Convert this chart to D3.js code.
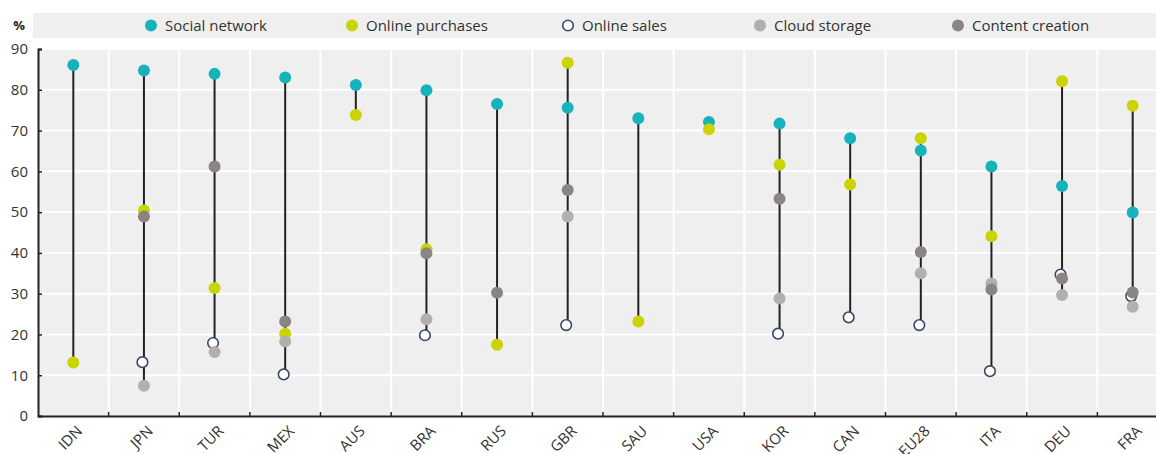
<!DOCTYPE html>
<html>
<head>
<meta charset="utf-8">
<script src="https://cdn.jsdelivr.net/npm/d3@7"></script>
<style>
  body { margin: 0; background: #fff; }
  svg { display: block; font-family: "Open Sans", sans-serif; }
</style>
</head>
<body>
<svg id="svg" width="1156" height="454"></svg>
<script>
// Countries along the x axis, in the order of the chart
let countries = ["IDN", "JPN", "TUR", "MEX", "AUS", "BRA", "RUS", "GBR", "SAU", "USA", "KOR", "CAN", "EU28", "ITA", "DEU", "FRA"];

// Values (%), null where a country has no point
let socialNetwork   = [86.1, 84.7, 83.9, 83.0, 81.2, 79.9, 76.5, 75.6, 73.0, 72.1, 71.7, 68.1, 65.1, 61.2, 56.4, 49.9];
let onlinePurchases = [13.1, 50.4, 31.4, 20.2, 73.8, 40.9, 17.5, 86.6, 23.2, 70.3, 61.6, 56.8, 68.1, 44.1, 82.1, 76.1];
let onlineSales     = [null, 13.2, 17.9, 10.2, null, 19.8, null, 22.3, null, null, 20.2, 24.2, 22.3, 11.0, 34.7, 29.4];
let cloudStorage    = [null, 7.4, 15.7, 18.3, null, 23.7, null, 48.9, null, null, 28.8, null, 35.0, 32.5, 29.7, 26.8];
let contentCreation = [null, 48.9, 61.2, 23.2, null, 39.9, 30.2, 55.4, null, null, 53.3, null, 40.2, 31.0, 33.7, 30.3];

let yTicks = [0, 10, 20, 30, 40, 50, 60, 70, 80, 90];

// Series in drawing order (later ones sit on top)
let series = [
    { name: "Social network",   values: socialNetwork,   fill: "#17b3bc", stroke: "none" },
    { name: "Online purchases", values: onlinePurchases, fill: "#c9d400", stroke: "none" },
    { name: "Online sales",     values: onlineSales,     fill: "#ffffff", stroke: "#3a4768" },
    { name: "Cloud storage",    values: cloudStorage,    fill: "#b2afae", stroke: "none" },
    { name: "Content creation", values: contentCreation, fill: "#8a8583", stroke: "none" }
];

// Where each legend marker sits across the top band
let legendDotX = [151, 352, 568, 760, 958];

let svg = d3.select("#svg");
let plot = { left: 38, top: 49, bottom: 416, right: 1168 };

let x = d3.scaleBand().domain(countries).range([plot.left, plot.right]).padding(0);
let y = d3.scaleLinear().domain([0, 90]).range([plot.bottom, plot.top]);

//Legend band
svg.append("rect")
    .attr("x", 33).attr("y", 13)
    .attr("width", 1156 - 33).attr("height", 25)
    .attr("fill", "#efefef");

svg.append("text")
    .attr("x", 19).attr("y", 30)
    .attr("text-anchor", "middle")
    .attr("font-size", 13).attr("font-weight", "bold")
    .attr("fill", "#222")
    .text("%");

series.forEach(function (s, i) {
    svg.append("circle")
        .attr("cx", legendDotX[i]).attr("cy", 25.5)
        .attr("r", s.stroke === "none" ? 6 : 5.3)
        .attr("fill", s.fill)
        .attr("stroke", s.stroke)
        .attr("stroke-width", 1.6);
    svg.append("text")
        .attr("x", legendDotX[i] + 14).attr("y", 30.5)
        .attr("font-size", 15)
        .attr("fill", "#333")
        .text(s.name);
});

//Plot background and white grid
svg.append("rect")
    .attr("x", plot.left).attr("y", plot.top)
    .attr("width", plot.right - plot.left).attr("height", plot.bottom - plot.top)
    .attr("fill", "#efefef");

svg.append("g").selectAll("line")
    .data(yTicks.slice(1))
    .join("line")
    .attr("x1", plot.left).attr("x2", plot.right)
    .attr("y1", d => y(d)).attr("y2", d => y(d))
    .attr("stroke", "#fff").attr("stroke-width", 2);

svg.append("g").selectAll("line")
    .data(countries.slice(1))
    .join("line")
    .attr("x1", d => x(d)).attr("x2", d => x(d))
    .attr("y1", plot.top).attr("y2", plot.bottom)
    .attr("stroke", "#fff").attr("stroke-width", 2);

//Axes
let yAxis = svg.append("g")
    .attr("transform", "translate(" + plot.left + ",0)")
    .call(d3.axisLeft(y).tickValues(yTicks).tickSize(-4).tickPadding(10));
yAxis.select(".domain").attr("stroke", "#222").attr("stroke-width", 2);
yAxis.selectAll(".tick line").attr("stroke", "#222").attr("stroke-width", 1.5);
yAxis.selectAll("text")
    .attr("font-size", 15).attr("fill", "#333")
    .attr("font-family", "Open Sans, sans-serif");

let xAxis = svg.append("g")
    .attr("transform", "translate(0," + plot.bottom + ")")
    .call(d3.axisBottom(x).tickSize(0).tickFormat(""));
xAxis.select(".domain").attr("stroke", "#222").attr("stroke-width", 2);

//Small inner ticks at the column boundaries
svg.append("g").selectAll("line")
    .data(countries.slice(1))
    .join("line")
    .attr("x1", d => x(d)).attr("x2", d => x(d))
    .attr("y1", plot.bottom).attr("y2", plot.bottom - 4)
    .attr("stroke", "#222").attr("stroke-width", 1.5);

//Rotated country labels
svg.append("g").selectAll("text")
    .data(countries)
    .join("text")
    .attr("transform", d => "translate(" + (x(d) + x.bandwidth() / 2 + 10) + "," + (plot.bottom + 16) + ") rotate(-45)")
    .attr("text-anchor", "end")
    .attr("font-size", 15)
    .attr("fill", "#333")
    .text(d => d);

//Range line for each country, from its lowest to its highest point
let ranges = countries.map(function (c, i) {
    let vals = series.map(s => s.values[i]).filter(v => v !== null);
    return { country: c, lo: d3.min(vals), hi: d3.max(vals) };
});

svg.append("g").selectAll("line")
    .data(ranges)
    .join("line")
    .attr("x1", d => x(d.country) + x.bandwidth() / 2)
    .attr("x2", d => x(d.country) + x.bandwidth() / 2)
    .attr("y1", d => y(d.lo)).attr("y2", d => y(d.hi))
    .attr("stroke", "#222").attr("stroke-width", 2);

//Points, one group per series
series.forEach(function (s) {
    let pts = countries.map((c, i) => ({ country: c, value: s.values[i] })).filter(d => d.value !== null);
    svg.append("g").selectAll("circle")
        .data(pts)
        .join("circle")
        .attr("cx", d => x(d.country) + x.bandwidth() / 2 - (s.stroke === "none" ? 0 : 1.5))
        .attr("cy", d => y(d.value))
        .attr("r", s.stroke === "none" ? 6 : 5.3)
        .attr("fill", s.fill)
        .attr("stroke", s.stroke)
        .attr("stroke-width", 1.6);
});
</script>
</body>
</html>
